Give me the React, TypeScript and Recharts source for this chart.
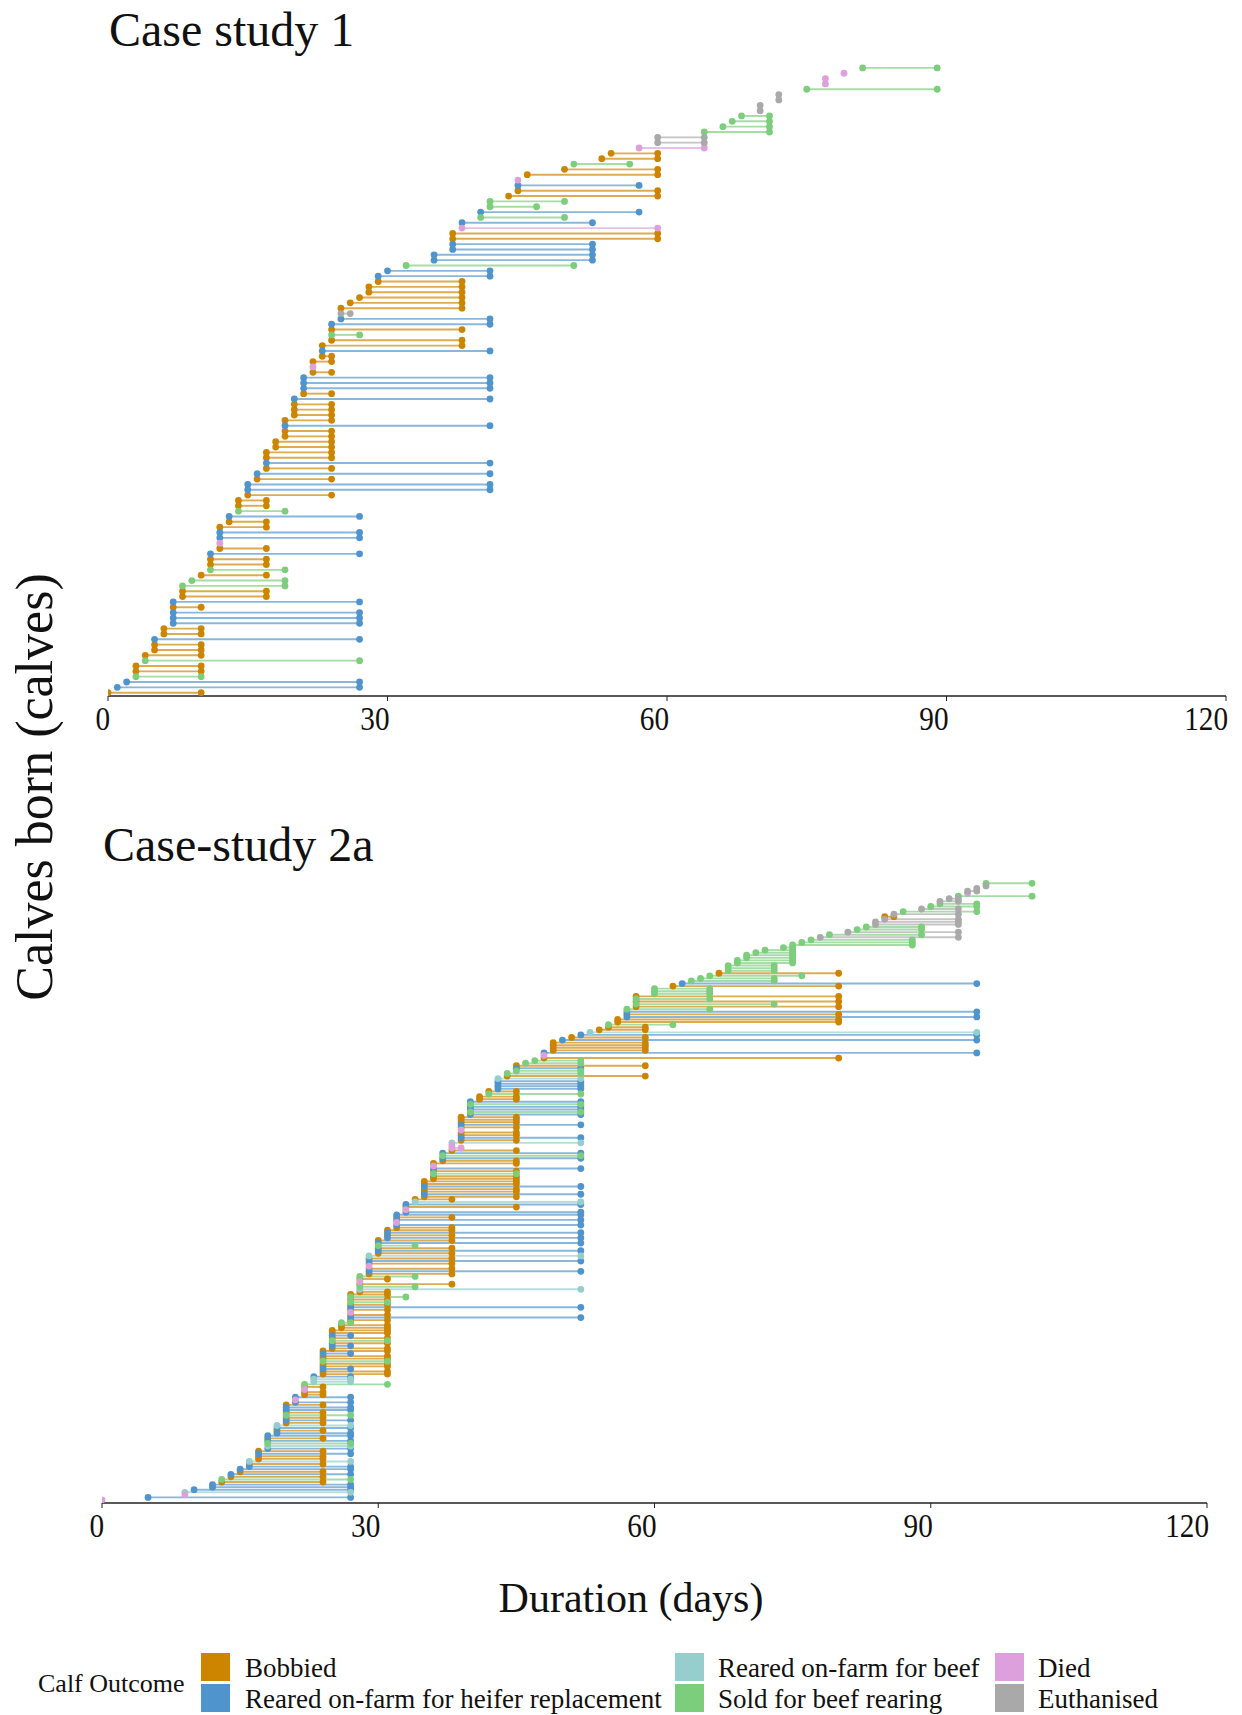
import { ScatterChart, Scatter, XAxis, YAxis, ErrorBar } from "recharts";

// [born (day), exit (day), outcome]
type Calf = [number, number, string];

const outcomeKeys = ["B", "H", "RB", "S", "D", "E"];
const outcomeLabels = [
  "Bobbied",
  "Reared on-farm for heifer replacement",
  "Reared on-farm for beef",
  "Sold for beef rearing",
  "Died",
  "Euthanised",
];
const outcomeColors = ["#CD8500", "#4F94CD", "#96CDCD", "#7CCD7C", "#DDA0DD", "#A9A9A9"];
const durationTicks = [0, 30, 60, 90, 120];

const case1Calves: Calf[] = [
  [0, 10, "B"], [1, 27, "H"], [2, 27, "H"], [3, 10, "S"], [3, 10, "B"], [3, 10, "B"],
  [4, 27, "S"], [4, 10, "B"], [5, 10, "B"], [5, 10, "B"], [5, 27, "H"], [6, 10, "B"],
  [6, 10, "B"], [7, 27, "H"], [7, 27, "H"], [7, 27, "H"], [7, 10, "B"], [7, 27, "H"],
  [8, 17, "B"], [8, 17, "B"], [8, 19, "S"], [9, 19, "S"], [10, 17, "B"], [11, 19, "S"],
  [11, 17, "B"], [11, 17, "B"], [11, 27, "H"], [12, 17, "B"], [12, 12, "D"], [12, 27, "H"],
  [12, 27, "H"], [12, 17, "B"], [13, 17, "B"], [13, 27, "H"], [14, 19, "S"], [14, 17, "B"],
  [14, 17, "B"], [15, 24, "B"], [15, 41, "H"], [15, 41, "H"], [16, 24, "B"], [16, 41, "H"],
  [17, 24, "B"], [17, 41, "H"], [17, 24, "B"], [17, 24, "B"], [18, 24, "B"], [18, 24, "B"],
  [19, 24, "B"], [19, 24, "B"], [19, 41, "H"], [19, 24, "B"], [20, 24, "B"], [20, 24, "B"],
  [20, 24, "B"], [20, 41, "H"], [21, 24, "B"], [21, 41, "H"], [21, 41, "H"], [21, 41, "H"],
  [22, 24, "B"], [22, 22, "D"], [22, 24, "B"], [23, 24, "B"], [23, 41, "H"], [23, 38, "B"],
  [24, 38, "B"], [24, 27, "S"], [24, 38, "B"], [24, 41, "H"], [25, 41, "H"], [25, 26, "E"],
  [25, 38, "B"], [26, 38, "B"], [27, 38, "B"], [28, 38, "B"], [28, 38, "B"], [29, 38, "B"],
  [29, 41, "H"], [30, 41, "H"], [32, 50, "S"], [35, 52, "H"], [35, 52, "H"], [37, 52, "H"],
  [37, 52, "H"], [37, 59, "B"], [37, 59, "B"], [38, 59, "D"], [38, 52, "H"], [40, 49, "S"],
  [40, 57, "H"], [41, 46, "S"], [41, 49, "S"], [43, 59, "B"], [44, 59, "B"], [44, 57, "H"],
  [44, 44, "D"], [45, 59, "B"], [49, 59, "B"], [50, 56, "S"], [53, 59, "B"], [54, 59, "B"],
  [57, 64, "D"], [59, 64, "E"], [59, 64, "E"], [64, 71, "S"], [66, 71, "S"], [67, 71, "S"],
  [68, 71, "S"], [70, 70, "E"], [70, 70, "E"], [72, 72, "E"], [72, 72, "E"], [75, 89, "S"],
  [77, 77, "D"], [77, 77, "D"], [79, 79, "D"], [81, 89, "S"],
];

const case2Calves: Calf[] = [
  [0, 0, "D"], [5, 27, "H"], [9, 9, "D"], [9, 27, "RB"], [10, 27, "H"], [12, 27, "H"],
  [12, 27, "H"], [13, 24, "B"], [13, 27, "S"], [14, 24, "B"], [14, 27, "H"], [15, 24, "B"],
  [15, 27, "H"], [16, 27, "H"], [16, 24, "B"], [16, 27, "RB"], [17, 24, "B"], [17, 24, "B"],
  [17, 27, "H"], [17, 24, "B"], [18, 27, "H"], [18, 27, "RB"], [18, 27, "S"], [18, 27, "H"],
  [18, 24, "B"], [18, 27, "H"], [19, 27, "H"], [19, 24, "B"], [19, 27, "H"], [19, 27, "RB"],
  [20, 24, "B"], [20, 27, "H"], [20, 24, "B"], [20, 27, "S"], [20, 24, "B"], [20, 27, "H"],
  [20, 27, "H"], [20, 24, "B"], [21, 27, "H"], [21, 21, "D"], [21, 27, "H"], [22, 24, "B"],
  [22, 24, "B"], [22, 22, "D"], [22, 24, "B"], [22, 31, "S"], [23, 27, "RB"], [23, 27, "RB"],
  [23, 27, "H"], [24, 31, "B"], [24, 31, "B"], [24, 27, "H"], [24, 31, "B"], [24, 31, "B"],
  [24, 31, "S"], [24, 31, "B"], [24, 31, "B"], [24, 27, "H"], [24, 31, "B"], [25, 31, "B"],
  [25, 27, "H"], [25, 31, "B"], [25, 31, "S"], [25, 31, "B"], [25, 27, "H"], [25, 31, "B"],
  [25, 31, "B"], [26, 31, "B"], [26, 31, "B"], [26, 27, "S"], [27, 31, "B"], [27, 52, "H"],
  [27, 31, "B"], [27, 27, "D"], [27, 31, "B"], [27, 52, "H"], [27, 31, "B"], [27, 31, "S"],
  [27, 31, "B"], [27, 33, "S"], [27, 31, "B"], [28, 31, "B"], [28, 52, "RB"], [28, 34, "S"],
  [28, 38, "B"], [28, 28, "D"], [28, 31, "B"], [28, 34, "S"], [29, 38, "B"], [29, 52, "H"],
  [29, 38, "B"], [29, 29, "D"], [29, 38, "B"], [29, 52, "H"], [29, 38, "B"], [29, 52, "RB"],
  [30, 38, "B"], [30, 52, "H"], [30, 38, "B"], [30, 34, "S"], [30, 52, "H"], [30, 38, "B"],
  [31, 52, "H"], [31, 38, "B"], [31, 52, "H"], [31, 38, "B"], [32, 38, "B"], [32, 52, "H"],
  [32, 32, "D"], [32, 52, "H"], [32, 38, "B"], [32, 52, "H"], [33, 52, "H"], [33, 33, "D"],
  [33, 45, "B"], [33, 52, "H"], [34, 52, "RB"], [34, 38, "B"], [35, 45, "B"], [35, 52, "H"],
  [35, 45, "B"], [35, 45, "B"], [35, 52, "H"], [35, 45, "B"], [35, 45, "B"], [36, 45, "B"],
  [36, 45, "B"], [36, 45, "S"], [36, 45, "B"], [36, 52, "H"], [36, 36, "D"], [36, 45, "B"],
  [37, 45, "B"], [37, 52, "H"], [37, 52, "S"], [37, 52, "H"], [38, 45, "B"], [38, 39, "D"],
  [38, 38, "D"], [38, 52, "RB"], [39, 45, "B"], [39, 52, "H"], [39, 45, "B"], [39, 45, "B"],
  [39, 39, "D"], [39, 45, "B"], [39, 52, "H"], [39, 45, "B"], [39, 45, "B"], [39, 45, "B"],
  [40, 52, "H"], [40, 52, "S"], [40, 52, "H"], [40, 52, "H"], [40, 52, "S"], [40, 52, "H"],
  [41, 45, "B"], [41, 45, "B"], [42, 52, "S"], [42, 45, "B"], [43, 52, "H"], [43, 52, "H"],
  [43, 52, "H"], [43, 52, "H"], [43, 52, "RB"], [44, 59, "B"], [44, 52, "S"], [45, 52, "S"],
  [45, 52, "H"], [45, 59, "B"], [46, 52, "S"], [47, 52, "S"], [48, 80, "B"], [48, 48, "D"],
  [48, 95, "H"], [49, 59, "B"], [49, 59, "B"], [49, 59, "B"], [49, 59, "B"], [50, 95, "H"],
  [51, 59, "B"], [52, 95, "H"], [53, 95, "RB"], [54, 59, "B"], [55, 59, "B"], [55, 62, "S"],
  [56, 80, "B"], [56, 80, "B"], [57, 95, "H"], [57, 80, "B"], [57, 95, "H"], [57, 66, "S"],
  [58, 80, "B"], [58, 73, "S"], [58, 80, "B"], [58, 66, "S"], [58, 80, "B"], [60, 66, "S"],
  [60, 66, "S"], [60, 66, "S"], [62, 80, "B"], [63, 95, "H"], [64, 73, "S"], [65, 73, "S"],
  [66, 76, "S"], [67, 80, "B"], [68, 73, "S"], [68, 73, "S"], [68, 73, "S"], [69, 75, "S"],
  [69, 75, "S"], [70, 75, "S"], [70, 75, "S"], [71, 75, "S"], [72, 75, "S"], [74, 75, "S"],
  [75, 88, "S"], [76, 88, "S"], [77, 88, "S"], [78, 93, "E"], [79, 89, "S"], [81, 93, "E"],
  [82, 89, "S"], [83, 89, "S"], [84, 93, "E"], [84, 93, "E"], [85, 93, "E"], [85, 86, "B"],
  [86, 93, "E"], [87, 95, "S"], [89, 93, "E"], [90, 95, "S"], [91, 95, "S"], [91, 93, "E"],
  [92, 93, "E"], [93, 101, "S"], [94, 94, "D"], [94, 95, "E"], [95, 95, "E"], [96, 96, "E"],
  [96, 101, "S"],
];

const SERIF = "'Liberation Serif', 'Times New Roman', serif";
const AXIS = "#222";

// ggplot-style tick label: narrow serif, right edge sitting on the tick
const DurationTick = (props: any) => {
  const { x, y, payload } = props;
  return (
    <text
      transform={`translate(${x + 2},${y}) scale(0.86,1)`}
      dy="0.71em"
      textAnchor="end"
      fontFamily={SERIF}
      fontSize={34}
      fill="#111"
    >
      {payload.value}
    </text>
  );
};

type PanelProps = {
  calves: Calf[];
  top: number;
  margin: { top: number; right: number; bottom: number; left: number };
  padLow: number;
  padHigh: number;
};

const CalfPanel = ({ calves, top, margin, padLow, padHigh }: PanelProps) => {
  const rows = calves.map(([born, exit, outcome], i) => ({
    x: born,
    y: i + 1,
    exit,
    span: [0, exit - born],
    outcome,
  }));
  const yDomain = [1 - padLow, rows.length + padHigh];

  return (
    <div style={{ position: "absolute", left: 0, top }}>
      <ScatterChart width={1242} height={760} margin={margin}>
        <XAxis
          type="number"
          dataKey="x"
          domain={[0, 120]}
          ticks={durationTicks}
          interval={0}
          allowDataOverflow
          height={40}
          tickSize={5}
          tickMargin={5}
          axisLine={{ stroke: AXIS, strokeWidth: 1.3 }}
          tickLine={{ stroke: AXIS }}
          tick={<DurationTick />}
        />
        <YAxis
          type="number"
          dataKey="y"
          domain={yDomain}
          allowDataOverflow
          width={0}
          tick={false}
          tickLine={false}
          axisLine={{ stroke: AXIS, strokeWidth: 1.3 }}
        />
        {outcomeKeys.map((key, idx) => (
          <Scatter
            key={"seg-" + key}
            data={rows.filter((r) => r.outcome === key)}
            isAnimationActive={false}
            shape={() => <g />}
          >
            <ErrorBar
              dataKey="span"
              direction="x"
              width={0}
              stroke={outcomeColors[idx]}
              strokeWidth={1.9}
              strokeOpacity={0.68}
              isAnimationActive={false}
            />
          </Scatter>
        ))}
        {outcomeKeys.map((key, idx) => {
          const pts = rows
            .filter((r) => r.outcome === key)
            .flatMap((r) =>
              r.exit === r.x ? [{ x: r.x, y: r.y }] : [{ x: r.x, y: r.y }, { x: r.exit, y: r.y }]
            );
          return (
            <Scatter
              key={"pt-" + key}
              data={pts}
              isAnimationActive={false}
              shape={(p: any) => <circle cx={p.cx} cy={p.cy} r={3.4} fill={outcomeColors[idx]} />}
            />
          );
        })}
      </ScatterChart>
    </div>
  );
};

const legendCols = [
  { swatch: 201, text: 245 },
  { swatch: 675, text: 718 },
  { swatch: 995, text: 1038 },
];

const App = () => {
  return (
    <div
      style={{
        position: "absolute",
        left: 0,
        top: 0,
        width: 1242,
        height: 1715,
        background: "#fff",
        fontFamily: SERIF,
        color: "#111",
        overflow: "hidden",
      }}
    >
      <div style={{ position: "absolute", left: 109, top: 6, fontSize: 48, lineHeight: 1 }}>
        Case study 1
      </div>
      <div style={{ position: "absolute", left: 103, top: 821, fontSize: 48, lineHeight: 1 }}>
        Case-study 2a
      </div>

      <CalfPanel
        calves={case1Calves}
        top={0}
        margin={{ top: 63, right: 16, bottom: 24, left: 108 }}
        padLow={0.62}
        padHigh={0.92}
      />
      <CalfPanel
        calves={case2Calves}
        top={800}
        margin={{ top: 78, right: 35, bottom: 17, left: 102 }}
        padLow={1.17}
        padHigh={2.07}
      />

      <div
        style={{
          position: "absolute",
          left: 35,
          top: 787,
          fontSize: 52,
          lineHeight: 1,
          whiteSpace: "nowrap",
          transform: "translate(-50%, -50%) rotate(-90deg)",
        }}
      >
        Calves born (calves)
      </div>
      <div
        style={{
          position: "absolute",
          left: 631,
          top: 1577,
          fontSize: 42,
          lineHeight: 1,
          whiteSpace: "nowrap",
          transform: "translateX(-50%)",
        }}
      >
        Duration (days)
      </div>

      <div style={{ position: "absolute", left: 38, top: 1671, fontSize: 26, lineHeight: 1 }}>
        Calf Outcome
      </div>
      {outcomeLabels.map((label, i) => {
        const col = legendCols[Math.floor(i / 2)];
        const rowTop = i % 2 === 0 ? 1653 : 1684;
        return (
          <div key={label}>
            <div
              style={{
                position: "absolute",
                left: col.swatch,
                top: rowTop,
                width: 29,
                height: 28,
                background: outcomeColors[i],
              }}
            />
            <div
              style={{
                position: "absolute",
                left: col.text,
                top: rowTop + 1,
                fontSize: 27,
                lineHeight: "28px",
                whiteSpace: "nowrap",
              }}
            >
              {label}
            </div>
          </div>
        );
      })}
    </div>
  );
};

export default App;
